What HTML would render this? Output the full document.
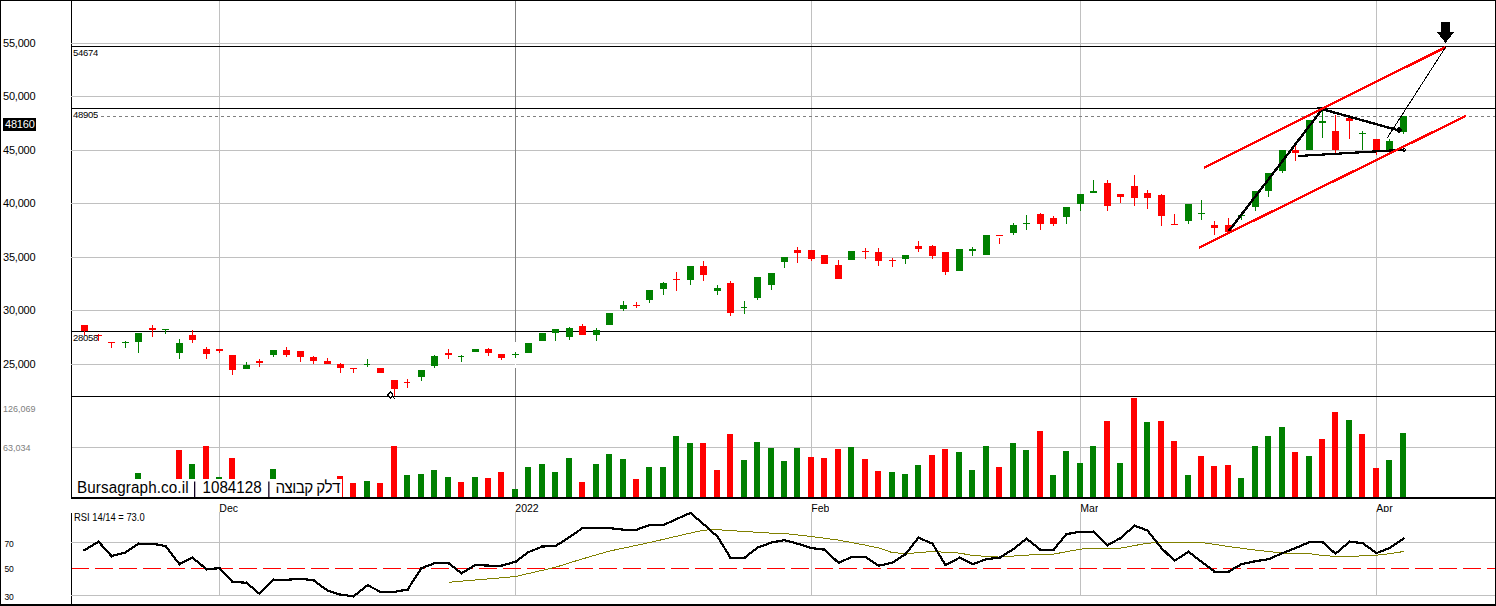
<!DOCTYPE html>
<html><head><meta charset="utf-8"><title>chart</title>
<style>
html,body{margin:0;padding:0;background:#fff;}
body{width:1496px;height:606px;position:relative;overflow:hidden;font-family:"Liberation Sans",sans-serif;}
.t{position:absolute;white-space:nowrap;line-height:12px;font-family:"Liberation Sans",sans-serif;}
</style></head><body>
<svg width="1496" height="606" viewBox="0 0 1496 606" style="position:absolute;left:0;top:0">
<rect x="0" y="0" width="1496" height="606" fill="#fff"/>
<g shape-rendering="crispEdges">
<rect x="71" y="43" width="1424" height="1" fill="#c0c0c0"/>
<rect x="71" y="96" width="1424" height="1" fill="#c0c0c0"/>
<rect x="71" y="150" width="1424" height="1" fill="#c0c0c0"/>
<rect x="71" y="203" width="1424" height="1" fill="#c0c0c0"/>
<rect x="71" y="257" width="1424" height="1" fill="#c0c0c0"/>
<rect x="71" y="310" width="1424" height="1" fill="#c0c0c0"/>
<rect x="71" y="364" width="1424" height="1" fill="#c0c0c0"/>
<rect x="72" y="447" width="1423" height="1" fill="#c0c0c0"/>
<rect x="72" y="542" width="1423" height="1" fill="#c0c0c0"/>
<rect x="72" y="595" width="1423" height="1" fill="#c0c0c0"/>
<rect x="219" y="1" width="1" height="496" fill="#c0c0c0"/>
<rect x="219" y="512" width="1" height="84" fill="#c0c0c0"/>
<rect x="515" y="1" width="1" height="496" fill="#808080"/>
<rect x="515" y="512" width="1" height="84" fill="#c0c0c0"/>
<rect x="811" y="1" width="1" height="496" fill="#c0c0c0"/>
<rect x="811" y="512" width="1" height="84" fill="#c0c0c0"/>
<rect x="1080" y="1" width="1" height="496" fill="#c0c0c0"/>
<rect x="1080" y="512" width="1" height="84" fill="#c0c0c0"/>
<rect x="1376" y="1" width="1" height="496" fill="#c0c0c0"/>
<rect x="1376" y="512" width="1" height="84" fill="#c0c0c0"/>
<rect x="515" y="342" width="1" height="26" fill="#fff"/>
<line x1="101" y1="116.5" x2="1495" y2="116.5" stroke="#808080" stroke-width="1" stroke-dasharray="3 3"/>
<rect x="72" y="46" width="1423" height="1" fill="#000"/>
<rect x="72" y="108" width="1423" height="1" fill="#000"/>
<rect x="72" y="331" width="1423" height="1" fill="#000"/>
<rect x="72" y="396" width="1423" height="1" fill="#000"/>
<rect x="72" y="497" width="1423" height="2" fill="#000"/>
<rect x="135" y="473" width="6" height="24" fill="#008000"/>
<rect x="176" y="450" width="6" height="47" fill="#ff0000"/>
<rect x="189" y="464" width="6" height="33" fill="#008000"/>
<rect x="203" y="446" width="6" height="51" fill="#ff0000"/>
<rect x="216" y="477" width="6" height="20" fill="#008000"/>
<rect x="229" y="458" width="6" height="39" fill="#ff0000"/>
<rect x="270" y="469" width="6" height="28" fill="#008000"/>
<rect x="337" y="476" width="6" height="21" fill="#ff0000"/>
<rect x="350" y="483" width="6" height="14" fill="#ff0000"/>
<rect x="364" y="481" width="6" height="16" fill="#008000"/>
<rect x="377" y="483" width="6" height="14" fill="#ff0000"/>
<rect x="391" y="446" width="6" height="51" fill="#ff0000"/>
<rect x="404" y="475" width="6" height="22" fill="#008000"/>
<rect x="418" y="474" width="6" height="23" fill="#008000"/>
<rect x="431" y="470" width="6" height="27" fill="#008000"/>
<rect x="445" y="477" width="6" height="20" fill="#008000"/>
<rect x="458" y="482" width="6" height="15" fill="#ff0000"/>
<rect x="472" y="477" width="6" height="20" fill="#008000"/>
<rect x="485" y="478" width="6" height="19" fill="#ff0000"/>
<rect x="498" y="472" width="6" height="25" fill="#ff0000"/>
<rect x="512" y="489" width="6" height="8" fill="#008000"/>
<rect x="525" y="467" width="6" height="30" fill="#008000"/>
<rect x="539" y="464" width="6" height="33" fill="#008000"/>
<rect x="552" y="472" width="6" height="25" fill="#008000"/>
<rect x="566" y="458" width="6" height="39" fill="#008000"/>
<rect x="579" y="482" width="6" height="15" fill="#ff0000"/>
<rect x="593" y="464" width="6" height="33" fill="#008000"/>
<rect x="606" y="454" width="6" height="43" fill="#008000"/>
<rect x="620" y="459" width="6" height="38" fill="#008000"/>
<rect x="633" y="479" width="6" height="18" fill="#ff0000"/>
<rect x="646" y="467" width="6" height="30" fill="#008000"/>
<rect x="660" y="467" width="6" height="30" fill="#008000"/>
<rect x="673" y="436" width="6" height="61" fill="#008000"/>
<rect x="687" y="443" width="6" height="54" fill="#008000"/>
<rect x="700" y="443" width="6" height="54" fill="#ff0000"/>
<rect x="714" y="470" width="6" height="27" fill="#ff0000"/>
<rect x="727" y="434" width="6" height="63" fill="#ff0000"/>
<rect x="741" y="460" width="6" height="37" fill="#008000"/>
<rect x="754" y="442" width="6" height="55" fill="#008000"/>
<rect x="768" y="448" width="6" height="49" fill="#008000"/>
<rect x="781" y="461" width="6" height="36" fill="#008000"/>
<rect x="794" y="448" width="6" height="49" fill="#008000"/>
<rect x="808" y="457" width="6" height="40" fill="#ff0000"/>
<rect x="821" y="458" width="6" height="39" fill="#ff0000"/>
<rect x="835" y="449" width="6" height="48" fill="#ff0000"/>
<rect x="848" y="447" width="6" height="50" fill="#008000"/>
<rect x="862" y="459" width="6" height="38" fill="#ff0000"/>
<rect x="875" y="471" width="6" height="26" fill="#ff0000"/>
<rect x="889" y="472" width="6" height="25" fill="#008000"/>
<rect x="902" y="474" width="6" height="23" fill="#008000"/>
<rect x="915" y="465" width="6" height="32" fill="#008000"/>
<rect x="929" y="455" width="6" height="42" fill="#ff0000"/>
<rect x="942" y="449" width="6" height="48" fill="#ff0000"/>
<rect x="956" y="452" width="6" height="45" fill="#008000"/>
<rect x="969" y="470" width="6" height="27" fill="#008000"/>
<rect x="983" y="446" width="6" height="51" fill="#008000"/>
<rect x="996" y="467" width="6" height="30" fill="#ff0000"/>
<rect x="1010" y="443" width="6" height="54" fill="#008000"/>
<rect x="1023" y="450" width="6" height="47" fill="#008000"/>
<rect x="1037" y="431" width="6" height="66" fill="#ff0000"/>
<rect x="1050" y="475" width="6" height="22" fill="#008000"/>
<rect x="1063" y="451" width="6" height="46" fill="#008000"/>
<rect x="1077" y="463" width="6" height="34" fill="#008000"/>
<rect x="1090" y="446" width="6" height="51" fill="#008000"/>
<rect x="1104" y="421" width="6" height="76" fill="#ff0000"/>
<rect x="1117" y="463" width="6" height="34" fill="#008000"/>
<rect x="1131" y="398" width="6" height="99" fill="#ff0000"/>
<rect x="1144" y="422" width="6" height="75" fill="#008000"/>
<rect x="1158" y="421" width="6" height="76" fill="#ff0000"/>
<rect x="1171" y="441" width="6" height="56" fill="#ff0000"/>
<rect x="1185" y="475" width="6" height="22" fill="#008000"/>
<rect x="1198" y="456" width="6" height="41" fill="#ff0000"/>
<rect x="1211" y="466" width="6" height="31" fill="#ff0000"/>
<rect x="1225" y="465" width="6" height="32" fill="#ff0000"/>
<rect x="1238" y="478" width="6" height="19" fill="#008000"/>
<rect x="1252" y="446" width="6" height="51" fill="#008000"/>
<rect x="1265" y="436" width="6" height="61" fill="#008000"/>
<rect x="1279" y="427" width="6" height="70" fill="#008000"/>
<rect x="1292" y="452" width="6" height="45" fill="#ff0000"/>
<rect x="1306" y="456" width="6" height="41" fill="#008000"/>
<rect x="1319" y="439" width="6" height="58" fill="#ff0000"/>
<rect x="1332" y="412" width="6" height="85" fill="#ff0000"/>
<rect x="1346" y="420" width="6" height="77" fill="#008000"/>
<rect x="1359" y="434" width="6" height="63" fill="#ff0000"/>
<rect x="1373" y="468" width="6" height="29" fill="#ff0000"/>
<rect x="1386" y="460" width="6" height="37" fill="#008000"/>
<rect x="1400" y="433" width="6" height="64" fill="#008000"/>
<rect x="84" y="325" width="1" height="10" fill="#ff0000"/>
<rect x="81" y="325" width="7" height="6" fill="#ff0000"/>
<rect x="98" y="334" width="1" height="7" fill="#ff0000"/>
<rect x="95" y="335" width="7" height="1" fill="#ff0000"/>
<rect x="111" y="342" width="1" height="6" fill="#ff0000"/>
<rect x="108" y="342" width="7" height="1" fill="#ff0000"/>
<rect x="125" y="341" width="1" height="7" fill="#008000"/>
<rect x="122" y="342" width="7" height="1" fill="#008000"/>
<rect x="138" y="333" width="1" height="20" fill="#008000"/>
<rect x="135" y="333" width="7" height="9" fill="#008000"/>
<rect x="152" y="325" width="1" height="12" fill="#ff0000"/>
<rect x="149" y="328" width="7" height="2" fill="#ff0000"/>
<rect x="165" y="329" width="1" height="5" fill="#008000"/>
<rect x="162" y="329" width="7" height="1" fill="#008000"/>
<rect x="179" y="339" width="1" height="20" fill="#008000"/>
<rect x="176" y="343" width="7" height="10" fill="#008000"/>
<rect x="192" y="330" width="1" height="13" fill="#ff0000"/>
<rect x="189" y="335" width="7" height="5" fill="#ff0000"/>
<rect x="206" y="347" width="1" height="12" fill="#ff0000"/>
<rect x="203" y="349" width="7" height="5" fill="#ff0000"/>
<rect x="219" y="349" width="1" height="4" fill="#ff0000"/>
<rect x="216" y="349" width="7" height="2" fill="#ff0000"/>
<rect x="232" y="355" width="1" height="20" fill="#ff0000"/>
<rect x="229" y="355" width="7" height="15" fill="#ff0000"/>
<rect x="246" y="362" width="1" height="7" fill="#008000"/>
<rect x="243" y="365" width="7" height="4" fill="#008000"/>
<rect x="259" y="359" width="1" height="8" fill="#ff0000"/>
<rect x="256" y="361" width="7" height="2" fill="#ff0000"/>
<rect x="273" y="350" width="1" height="7" fill="#008000"/>
<rect x="270" y="350" width="7" height="5" fill="#008000"/>
<rect x="286" y="347" width="1" height="10" fill="#ff0000"/>
<rect x="283" y="350" width="7" height="5" fill="#ff0000"/>
<rect x="300" y="351" width="1" height="11" fill="#ff0000"/>
<rect x="297" y="351" width="7" height="6" fill="#ff0000"/>
<rect x="313" y="356" width="1" height="8" fill="#ff0000"/>
<rect x="310" y="357" width="7" height="4" fill="#ff0000"/>
<rect x="327" y="358" width="1" height="6" fill="#ff0000"/>
<rect x="324" y="361" width="7" height="3" fill="#ff0000"/>
<rect x="340" y="363" width="1" height="10" fill="#ff0000"/>
<rect x="337" y="364" width="7" height="4" fill="#ff0000"/>
<rect x="353" y="368" width="1" height="5" fill="#ff0000"/>
<rect x="350" y="368" width="7" height="1" fill="#ff0000"/>
<rect x="367" y="359" width="1" height="8" fill="#008000"/>
<rect x="364" y="364" width="6" height="1" fill="#008000"/>
<rect x="380" y="368" width="1" height="5" fill="#ff0000"/>
<rect x="377" y="368" width="7" height="5" fill="#ff0000"/>
<rect x="394" y="380" width="1" height="16" fill="#ff0000"/>
<rect x="391" y="380" width="7" height="9" fill="#ff0000"/>
<rect x="407" y="379" width="1" height="9" fill="#ff0000"/>
<rect x="404" y="382" width="6" height="1" fill="#ff0000"/>
<rect x="421" y="370" width="1" height="11" fill="#008000"/>
<rect x="418" y="370" width="7" height="7" fill="#008000"/>
<rect x="434" y="355" width="1" height="13" fill="#008000"/>
<rect x="431" y="356" width="7" height="10" fill="#008000"/>
<rect x="448" y="349" width="1" height="10" fill="#ff0000"/>
<rect x="445" y="353" width="7" height="2" fill="#ff0000"/>
<rect x="461" y="355" width="1" height="7" fill="#008000"/>
<rect x="458" y="356" width="6" height="1" fill="#008000"/>
<rect x="475" y="349" width="1" height="3" fill="#008000"/>
<rect x="472" y="349" width="7" height="3" fill="#008000"/>
<rect x="488" y="348" width="1" height="8" fill="#ff0000"/>
<rect x="485" y="349" width="7" height="4" fill="#ff0000"/>
<rect x="501" y="354" width="1" height="6" fill="#ff0000"/>
<rect x="498" y="354" width="7" height="4" fill="#ff0000"/>
<rect x="515" y="352" width="1" height="6" fill="#008000"/>
<rect x="512" y="354" width="7" height="1" fill="#008000"/>
<rect x="528" y="343" width="1" height="10" fill="#008000"/>
<rect x="525" y="343" width="7" height="10" fill="#008000"/>
<rect x="542" y="333" width="1" height="8" fill="#008000"/>
<rect x="539" y="333" width="7" height="8" fill="#008000"/>
<rect x="555" y="329" width="1" height="12" fill="#008000"/>
<rect x="552" y="329" width="7" height="4" fill="#008000"/>
<rect x="569" y="327" width="1" height="13" fill="#008000"/>
<rect x="566" y="328" width="7" height="9" fill="#008000"/>
<rect x="582" y="324" width="1" height="11" fill="#ff0000"/>
<rect x="579" y="326" width="7" height="9" fill="#ff0000"/>
<rect x="596" y="328" width="1" height="13" fill="#008000"/>
<rect x="593" y="330" width="7" height="5" fill="#008000"/>
<rect x="609" y="313" width="1" height="12" fill="#008000"/>
<rect x="606" y="313" width="7" height="12" fill="#008000"/>
<rect x="623" y="301" width="1" height="10" fill="#008000"/>
<rect x="620" y="305" width="7" height="4" fill="#008000"/>
<rect x="636" y="302" width="1" height="6" fill="#ff0000"/>
<rect x="633" y="305" width="7" height="1" fill="#ff0000"/>
<rect x="649" y="290" width="1" height="13" fill="#008000"/>
<rect x="646" y="290" width="7" height="10" fill="#008000"/>
<rect x="663" y="282" width="1" height="13" fill="#008000"/>
<rect x="660" y="283" width="7" height="6" fill="#008000"/>
<rect x="676" y="272" width="1" height="19" fill="#ff0000"/>
<rect x="673" y="279" width="7" height="1" fill="#ff0000"/>
<rect x="690" y="266" width="1" height="19" fill="#008000"/>
<rect x="687" y="266" width="7" height="14" fill="#008000"/>
<rect x="703" y="261" width="1" height="20" fill="#ff0000"/>
<rect x="700" y="266" width="7" height="9" fill="#ff0000"/>
<rect x="717" y="285" width="1" height="10" fill="#008000"/>
<rect x="714" y="288" width="7" height="3" fill="#008000"/>
<rect x="730" y="281" width="1" height="35" fill="#ff0000"/>
<rect x="727" y="283" width="7" height="30" fill="#ff0000"/>
<rect x="744" y="301" width="1" height="13" fill="#008000"/>
<rect x="741" y="307" width="6" height="1" fill="#008000"/>
<rect x="757" y="277" width="1" height="23" fill="#008000"/>
<rect x="754" y="277" width="7" height="21" fill="#008000"/>
<rect x="771" y="273" width="1" height="17" fill="#008000"/>
<rect x="768" y="273" width="7" height="12" fill="#008000"/>
<rect x="784" y="257" width="1" height="11" fill="#008000"/>
<rect x="781" y="257" width="7" height="5" fill="#008000"/>
<rect x="797" y="247" width="1" height="16" fill="#ff0000"/>
<rect x="794" y="250" width="7" height="3" fill="#ff0000"/>
<rect x="811" y="250" width="1" height="11" fill="#ff0000"/>
<rect x="808" y="250" width="7" height="9" fill="#ff0000"/>
<rect x="824" y="255" width="1" height="9" fill="#ff0000"/>
<rect x="821" y="255" width="7" height="9" fill="#ff0000"/>
<rect x="838" y="260" width="1" height="19" fill="#ff0000"/>
<rect x="835" y="265" width="7" height="14" fill="#ff0000"/>
<rect x="851" y="251" width="1" height="9" fill="#008000"/>
<rect x="848" y="251" width="7" height="9" fill="#008000"/>
<rect x="865" y="248" width="1" height="11" fill="#ff0000"/>
<rect x="862" y="251" width="7" height="1" fill="#ff0000"/>
<rect x="878" y="248" width="1" height="18" fill="#ff0000"/>
<rect x="875" y="252" width="7" height="9" fill="#ff0000"/>
<rect x="892" y="258" width="1" height="9" fill="#ff0000"/>
<rect x="889" y="260" width="7" height="1" fill="#ff0000"/>
<rect x="905" y="255" width="1" height="9" fill="#008000"/>
<rect x="902" y="255" width="7" height="4" fill="#008000"/>
<rect x="918" y="241" width="1" height="11" fill="#ff0000"/>
<rect x="915" y="246" width="7" height="3" fill="#ff0000"/>
<rect x="932" y="245" width="1" height="14" fill="#ff0000"/>
<rect x="929" y="246" width="7" height="10" fill="#ff0000"/>
<rect x="945" y="252" width="1" height="23" fill="#ff0000"/>
<rect x="942" y="252" width="7" height="20" fill="#ff0000"/>
<rect x="959" y="249" width="1" height="22" fill="#008000"/>
<rect x="956" y="249" width="7" height="22" fill="#008000"/>
<rect x="972" y="247" width="1" height="9" fill="#008000"/>
<rect x="969" y="249" width="7" height="2" fill="#008000"/>
<rect x="986" y="235" width="1" height="20" fill="#008000"/>
<rect x="983" y="235" width="7" height="20" fill="#008000"/>
<rect x="999" y="238" width="1" height="6" fill="#ff0000"/>
<rect x="996" y="235" width="7" height="1" fill="#ff0000"/>
<rect x="1013" y="223" width="1" height="12" fill="#008000"/>
<rect x="1010" y="225" width="7" height="8" fill="#008000"/>
<rect x="1026" y="215" width="1" height="15" fill="#008000"/>
<rect x="1023" y="223" width="7" height="1" fill="#008000"/>
<rect x="1040" y="213" width="1" height="17" fill="#ff0000"/>
<rect x="1037" y="214" width="7" height="10" fill="#ff0000"/>
<rect x="1053" y="216" width="1" height="10" fill="#ff0000"/>
<rect x="1050" y="218" width="7" height="6" fill="#ff0000"/>
<rect x="1066" y="207" width="1" height="17" fill="#008000"/>
<rect x="1063" y="207" width="7" height="10" fill="#008000"/>
<rect x="1080" y="194" width="1" height="17" fill="#008000"/>
<rect x="1077" y="194" width="7" height="10" fill="#008000"/>
<rect x="1093" y="180" width="1" height="13" fill="#008000"/>
<rect x="1090" y="191" width="7" height="2" fill="#008000"/>
<rect x="1107" y="180" width="1" height="31" fill="#ff0000"/>
<rect x="1104" y="183" width="7" height="23" fill="#ff0000"/>
<rect x="1120" y="194" width="1" height="9" fill="#ff0000"/>
<rect x="1117" y="194" width="7" height="3" fill="#ff0000"/>
<rect x="1134" y="175" width="1" height="31" fill="#ff0000"/>
<rect x="1131" y="186" width="7" height="12" fill="#ff0000"/>
<rect x="1147" y="190" width="1" height="19" fill="#ff0000"/>
<rect x="1144" y="193" width="7" height="5" fill="#ff0000"/>
<rect x="1161" y="194" width="1" height="32" fill="#ff0000"/>
<rect x="1158" y="195" width="7" height="21" fill="#ff0000"/>
<rect x="1174" y="214" width="1" height="11" fill="#ff0000"/>
<rect x="1171" y="224" width="7" height="1" fill="#ff0000"/>
<rect x="1188" y="204" width="1" height="20" fill="#008000"/>
<rect x="1185" y="204" width="7" height="17" fill="#008000"/>
<rect x="1201" y="200" width="1" height="20" fill="#008000"/>
<rect x="1198" y="213" width="7" height="1" fill="#008000"/>
<rect x="1214" y="221" width="1" height="14" fill="#ff0000"/>
<rect x="1211" y="225" width="7" height="3" fill="#ff0000"/>
<rect x="1228" y="218" width="1" height="14" fill="#ff0000"/>
<rect x="1225" y="225" width="7" height="7" fill="#ff0000"/>
<rect x="1241" y="214" width="1" height="6" fill="#008000"/>
<rect x="1238" y="214.5" width="7" height="1.0" fill="#008000"/>
<rect x="1255" y="191" width="1" height="20" fill="#008000"/>
<rect x="1252" y="191" width="7" height="16" fill="#008000"/>
<rect x="1268" y="173" width="1" height="24" fill="#008000"/>
<rect x="1265" y="173" width="7" height="18" fill="#008000"/>
<rect x="1282" y="150" width="1" height="23" fill="#008000"/>
<rect x="1279" y="150" width="7" height="21" fill="#008000"/>
<rect x="1295" y="142" width="1" height="19" fill="#ff0000"/>
<rect x="1292" y="150" width="7" height="3" fill="#ff0000"/>
<rect x="1309" y="120" width="1" height="30" fill="#008000"/>
<rect x="1306" y="120" width="7" height="30" fill="#008000"/>
<rect x="1322" y="109" width="1" height="29" fill="#008000"/>
<rect x="1319" y="121" width="7" height="2" fill="#008000"/>
<rect x="1335" y="115" width="1" height="38" fill="#ff0000"/>
<rect x="1332" y="131" width="7" height="19" fill="#ff0000"/>
<rect x="1349" y="116" width="1" height="23" fill="#ff0000"/>
<rect x="1346" y="118" width="7" height="3" fill="#ff0000"/>
<rect x="1362" y="131" width="1" height="19" fill="#008000"/>
<rect x="1359" y="133" width="7" height="1" fill="#008000"/>
<rect x="1376" y="139" width="1" height="16" fill="#ff0000"/>
<rect x="1373" y="139" width="7" height="11" fill="#ff0000"/>
<rect x="1389" y="139" width="1" height="11" fill="#008000"/>
<rect x="1386" y="141" width="7" height="9" fill="#008000"/>
<rect x="1403" y="116" width="1" height="18" fill="#008000"/>
<rect x="1400" y="116" width="7" height="16" fill="#008000"/>
<rect x="72" y="479" width="270" height="18" fill="#fff"/>
<rect x="194" y="481.5" width="1.3" height="15.5" fill="#102" shape-rendering="auto"/>
<rect x="268.2" y="481.5" width="1.3" height="15.5" fill="#102" shape-rendering="auto"/>
<line x1="71" y1="568.5" x2="1495" y2="568.5" stroke="#ff0000" stroke-width="1" stroke-dasharray="18 6"/>
<rect x="0" y="0" width="1496" height="1" fill="#000"/>
<rect x="0" y="0" width="1" height="606" fill="#000"/>
<rect x="1495" y="0" width="1" height="606" fill="#000"/>
<rect x="0" y="604" width="1496" height="2" fill="#000"/>
<rect x="71" y="0" width="1" height="499" fill="#000"/>
<rect x="71" y="513" width="1" height="92" fill="#000"/>
<rect x="71" y="43" width="1" height="1" fill="#c0c0c0"/>
<rect x="71" y="96" width="1" height="1" fill="#c0c0c0"/>
<rect x="71" y="150" width="1" height="1" fill="#c0c0c0"/>
<rect x="71" y="203" width="1" height="1" fill="#c0c0c0"/>
<rect x="71" y="257" width="1" height="1" fill="#c0c0c0"/>
<rect x="71" y="310" width="1" height="1" fill="#c0c0c0"/>
<rect x="71" y="364" width="1" height="1" fill="#c0c0c0"/>
<rect x="71" y="542" width="1" height="1" fill="#c0c0c0"/>
<rect x="71" y="595" width="1" height="1" fill="#c0c0c0"/>
<rect x="3" y="118" width="33" height="13" fill="#000"/>
<polygon points="1441,22 1450,22 1450,32 1454,32 1445.5,43 1437,32 1441,32" fill="#000"/>
</g>
<g shape-rendering="crispEdges" fill="none" stroke-linecap="butt">
<line x1="1228.6" y1="231.3" x2="1322.2" y2="109.3" stroke="#000" stroke-width="2.4"/>
<rect x="1317" y="107" width="6" height="1" fill="#000" stroke="none"/>
<line x1="1321" y1="108.8" x2="1399" y2="130.5" stroke="#000" stroke-width="2.4"/>
<line x1="1298.3" y1="156" x2="1403" y2="149.8" stroke="#000" stroke-width="2.2"/>
<line x1="1204" y1="167.7" x2="1446" y2="47" stroke="#ff0000" stroke-width="2.35"/>
<line x1="1199" y1="247.6" x2="1466" y2="115.8" stroke="#ff0000" stroke-width="2.35"/>
<line x1="1387" y1="138.3" x2="1446" y2="46.5" stroke="#000" stroke-width="1"/>
<polygon points="1399,126.5 1402.5,130 1399,133.5 1395.5,130" fill="#000" stroke="none"/>
<polygon points="1404,147 1406.6,149.8 1404,152.6 1401.4,149.8" fill="#000" stroke="none"/>
<rect x="1404" y="149" width="1" height="1" fill="#fff" stroke="none"/>
<polygon points="390.5,392.3 393,395 390.5,397.7 388,395" fill="#fff" stroke="#000" stroke-width="1.4"/>
<line x1="392" y1="396" x2="395" y2="399" stroke="#000" stroke-width="1"/>
<polyline points="449.4,582.2 515.2,576.6 555.7,567.2 580.0,559.6 609.4,551.1 649.8,542.5 690.2,533.1 703.7,530.1 717.1,529.7 744.0,531.5 771.0,533.1 784.4,533.5 811.3,536.5 838.3,540.1 865.2,545.1 880.0,548.3 892.0,552.5 905.6,553.7 932.5,551.5 959.4,553.1 972.9,555.5 999.8,557.1 1026.7,555.1 1053.6,554.1 1080.5,549.1 1094.0,548.1 1120.9,548.1 1147.8,543.1 1170.0,542.5 1201.7,542.5 1228.6,546.5 1255.5,550.1 1282.5,553.1 1309.4,553.7 1322.8,555.5 1336.3,556.5 1349.7,556.5 1376.7,555.1 1390.1,553.7 1403.6,551.5" stroke="#808000" stroke-width="1"/>
<line x1="84.5" y1="550.1" x2="98.5" y2="541.7" stroke="#000" stroke-width="2.2" stroke-linecap="square"/>
<line x1="98.5" y1="541.7" x2="111.5" y2="556.1" stroke="#000" stroke-width="2.2" stroke-linecap="square"/>
<line x1="111.5" y1="556.1" x2="125.5" y2="552.5" stroke="#000" stroke-width="2.2" stroke-linecap="square"/>
<line x1="125.5" y1="552.5" x2="138.5" y2="543.7" stroke="#000" stroke-width="2.2" stroke-linecap="square"/>
<line x1="138.5" y1="543.7" x2="152.5" y2="543.7" stroke="#000" stroke-width="2.2" stroke-linecap="square"/>
<line x1="152.5" y1="543.7" x2="165.5" y2="546.1" stroke="#000" stroke-width="2.2" stroke-linecap="square"/>
<line x1="165.5" y1="546.1" x2="179.5" y2="564.2" stroke="#000" stroke-width="2.2" stroke-linecap="square"/>
<line x1="179.5" y1="564.2" x2="192.5" y2="557.7" stroke="#000" stroke-width="2.2" stroke-linecap="square"/>
<line x1="192.5" y1="557.7" x2="206.5" y2="569.2" stroke="#000" stroke-width="2.2" stroke-linecap="square"/>
<line x1="206.5" y1="569.2" x2="219.5" y2="568.2" stroke="#000" stroke-width="2.2" stroke-linecap="square"/>
<line x1="219.5" y1="568.2" x2="232.5" y2="581.8" stroke="#000" stroke-width="2.2" stroke-linecap="square"/>
<line x1="232.5" y1="581.8" x2="246.5" y2="582.8" stroke="#000" stroke-width="2.2" stroke-linecap="square"/>
<line x1="246.5" y1="582.8" x2="259.5" y2="593.8" stroke="#000" stroke-width="2.2" stroke-linecap="square"/>
<line x1="259.5" y1="593.8" x2="273.5" y2="579.8" stroke="#000" stroke-width="2.2" stroke-linecap="square"/>
<line x1="273.5" y1="579.8" x2="286.5" y2="579.8" stroke="#000" stroke-width="2.2" stroke-linecap="square"/>
<line x1="286.5" y1="579.8" x2="300.5" y2="578.8" stroke="#000" stroke-width="2.2" stroke-linecap="square"/>
<line x1="300.5" y1="578.8" x2="313.5" y2="580.2" stroke="#000" stroke-width="2.2" stroke-linecap="square"/>
<line x1="313.5" y1="580.2" x2="327.5" y2="590.6" stroke="#000" stroke-width="2.2" stroke-linecap="square"/>
<line x1="327.5" y1="590.6" x2="340.5" y2="594.6" stroke="#000" stroke-width="2.2" stroke-linecap="square"/>
<line x1="340.5" y1="594.6" x2="353.5" y2="596.3" stroke="#000" stroke-width="2.2" stroke-linecap="square"/>
<line x1="353.5" y1="596.3" x2="367.5" y2="585.2" stroke="#000" stroke-width="2.2" stroke-linecap="square"/>
<line x1="367.5" y1="585.2" x2="380.5" y2="591.8" stroke="#000" stroke-width="2.2" stroke-linecap="square"/>
<line x1="380.5" y1="591.8" x2="394.5" y2="591.8" stroke="#000" stroke-width="2.2" stroke-linecap="square"/>
<line x1="394.5" y1="591.8" x2="407.5" y2="589.6" stroke="#000" stroke-width="2.2" stroke-linecap="square"/>
<line x1="407.5" y1="589.6" x2="421.5" y2="568.2" stroke="#000" stroke-width="2.2" stroke-linecap="square"/>
<line x1="421.5" y1="568.2" x2="434.5" y2="563.2" stroke="#000" stroke-width="2.2" stroke-linecap="square"/>
<line x1="434.5" y1="563.2" x2="448.5" y2="563.2" stroke="#000" stroke-width="2.2" stroke-linecap="square"/>
<line x1="448.5" y1="563.2" x2="461.5" y2="573.2" stroke="#000" stroke-width="2.2" stroke-linecap="square"/>
<line x1="461.5" y1="573.2" x2="475.5" y2="565.0" stroke="#000" stroke-width="2.2" stroke-linecap="square"/>
<line x1="475.5" y1="565.0" x2="488.5" y2="565.6" stroke="#000" stroke-width="2.2" stroke-linecap="square"/>
<line x1="488.5" y1="565.6" x2="501.5" y2="565.6" stroke="#000" stroke-width="2.2" stroke-linecap="square"/>
<line x1="501.5" y1="565.6" x2="515.5" y2="561.8" stroke="#000" stroke-width="2.2" stroke-linecap="square"/>
<line x1="515.5" y1="561.8" x2="528.5" y2="552.1" stroke="#000" stroke-width="2.2" stroke-linecap="square"/>
<line x1="528.5" y1="552.1" x2="542.5" y2="546.5" stroke="#000" stroke-width="2.2" stroke-linecap="square"/>
<line x1="542.5" y1="546.5" x2="555.5" y2="546.1" stroke="#000" stroke-width="2.2" stroke-linecap="square"/>
<line x1="555.5" y1="546.1" x2="569.5" y2="537.1" stroke="#000" stroke-width="2.2" stroke-linecap="square"/>
<line x1="569.5" y1="537.1" x2="582.5" y2="528.1" stroke="#000" stroke-width="2.2" stroke-linecap="square"/>
<line x1="582.5" y1="528.1" x2="596.5" y2="528.1" stroke="#000" stroke-width="2.2" stroke-linecap="square"/>
<line x1="596.5" y1="528.1" x2="609.5" y2="528.1" stroke="#000" stroke-width="2.2" stroke-linecap="square"/>
<line x1="609.5" y1="528.1" x2="623.5" y2="529.7" stroke="#000" stroke-width="2.2" stroke-linecap="square"/>
<line x1="623.5" y1="529.7" x2="636.5" y2="529.7" stroke="#000" stroke-width="2.2" stroke-linecap="square"/>
<line x1="636.5" y1="529.7" x2="649.5" y2="525.1" stroke="#000" stroke-width="2.2" stroke-linecap="square"/>
<line x1="649.5" y1="525.1" x2="663.5" y2="525.1" stroke="#000" stroke-width="2.2" stroke-linecap="square"/>
<line x1="663.5" y1="525.1" x2="676.5" y2="519.0" stroke="#000" stroke-width="2.2" stroke-linecap="square"/>
<line x1="676.5" y1="519.0" x2="690.5" y2="513.0" stroke="#000" stroke-width="2.2" stroke-linecap="square"/>
<line x1="690.5" y1="513.0" x2="703.5" y2="524.1" stroke="#000" stroke-width="2.2" stroke-linecap="square"/>
<line x1="703.5" y1="524.1" x2="717.5" y2="536.7" stroke="#000" stroke-width="2.2" stroke-linecap="square"/>
<line x1="717.5" y1="536.7" x2="730.5" y2="557.7" stroke="#000" stroke-width="2.2" stroke-linecap="square"/>
<line x1="730.5" y1="557.7" x2="744.5" y2="557.7" stroke="#000" stroke-width="2.2" stroke-linecap="square"/>
<line x1="744.5" y1="557.7" x2="757.5" y2="547.7" stroke="#000" stroke-width="2.2" stroke-linecap="square"/>
<line x1="757.5" y1="547.7" x2="771.5" y2="542.5" stroke="#000" stroke-width="2.2" stroke-linecap="square"/>
<line x1="771.5" y1="542.5" x2="784.5" y2="540.1" stroke="#000" stroke-width="2.2" stroke-linecap="square"/>
<line x1="784.5" y1="540.1" x2="797.5" y2="543.7" stroke="#000" stroke-width="2.2" stroke-linecap="square"/>
<line x1="797.5" y1="543.7" x2="811.5" y2="548.1" stroke="#000" stroke-width="2.2" stroke-linecap="square"/>
<line x1="811.5" y1="548.1" x2="824.5" y2="549.7" stroke="#000" stroke-width="2.2" stroke-linecap="square"/>
<line x1="824.5" y1="549.7" x2="838.5" y2="562.8" stroke="#000" stroke-width="2.2" stroke-linecap="square"/>
<line x1="838.5" y1="562.8" x2="851.5" y2="557.1" stroke="#000" stroke-width="2.2" stroke-linecap="square"/>
<line x1="851.5" y1="557.1" x2="865.5" y2="557.1" stroke="#000" stroke-width="2.2" stroke-linecap="square"/>
<line x1="865.5" y1="557.1" x2="878.5" y2="565.8" stroke="#000" stroke-width="2.2" stroke-linecap="square"/>
<line x1="878.5" y1="565.8" x2="892.5" y2="562.6" stroke="#000" stroke-width="2.2" stroke-linecap="square"/>
<line x1="892.5" y1="562.6" x2="905.5" y2="554.1" stroke="#000" stroke-width="2.2" stroke-linecap="square"/>
<line x1="905.5" y1="554.1" x2="918.5" y2="537.7" stroke="#000" stroke-width="2.2" stroke-linecap="square"/>
<line x1="918.5" y1="537.7" x2="932.5" y2="543.7" stroke="#000" stroke-width="2.2" stroke-linecap="square"/>
<line x1="932.5" y1="543.7" x2="945.5" y2="565.2" stroke="#000" stroke-width="2.2" stroke-linecap="square"/>
<line x1="945.5" y1="565.2" x2="959.5" y2="557.7" stroke="#000" stroke-width="2.2" stroke-linecap="square"/>
<line x1="959.5" y1="557.7" x2="972.5" y2="564.2" stroke="#000" stroke-width="2.2" stroke-linecap="square"/>
<line x1="972.5" y1="564.2" x2="986.5" y2="559.2" stroke="#000" stroke-width="2.2" stroke-linecap="square"/>
<line x1="986.5" y1="559.2" x2="999.5" y2="557.7" stroke="#000" stroke-width="2.2" stroke-linecap="square"/>
<line x1="999.5" y1="557.7" x2="1013.5" y2="549.1" stroke="#000" stroke-width="2.2" stroke-linecap="square"/>
<line x1="1013.5" y1="549.1" x2="1026.5" y2="538.5" stroke="#000" stroke-width="2.2" stroke-linecap="square"/>
<line x1="1026.5" y1="538.5" x2="1040.5" y2="549.7" stroke="#000" stroke-width="2.2" stroke-linecap="square"/>
<line x1="1040.5" y1="549.7" x2="1053.5" y2="549.7" stroke="#000" stroke-width="2.2" stroke-linecap="square"/>
<line x1="1053.5" y1="549.7" x2="1066.5" y2="534.1" stroke="#000" stroke-width="2.2" stroke-linecap="square"/>
<line x1="1066.5" y1="534.1" x2="1080.5" y2="531.7" stroke="#000" stroke-width="2.2" stroke-linecap="square"/>
<line x1="1080.5" y1="531.7" x2="1093.5" y2="531.7" stroke="#000" stroke-width="2.2" stroke-linecap="square"/>
<line x1="1093.5" y1="531.7" x2="1107.5" y2="545.1" stroke="#000" stroke-width="2.2" stroke-linecap="square"/>
<line x1="1107.5" y1="545.1" x2="1120.5" y2="538.1" stroke="#000" stroke-width="2.2" stroke-linecap="square"/>
<line x1="1120.5" y1="538.1" x2="1134.5" y2="525.7" stroke="#000" stroke-width="2.2" stroke-linecap="square"/>
<line x1="1134.5" y1="525.7" x2="1147.5" y2="530.5" stroke="#000" stroke-width="2.2" stroke-linecap="square"/>
<line x1="1147.5" y1="530.5" x2="1161.5" y2="548.1" stroke="#000" stroke-width="2.2" stroke-linecap="square"/>
<line x1="1161.5" y1="548.1" x2="1174.5" y2="560.8" stroke="#000" stroke-width="2.2" stroke-linecap="square"/>
<line x1="1174.5" y1="560.8" x2="1188.5" y2="551.7" stroke="#000" stroke-width="2.2" stroke-linecap="square"/>
<line x1="1188.5" y1="551.7" x2="1201.5" y2="561.8" stroke="#000" stroke-width="2.2" stroke-linecap="square"/>
<line x1="1201.5" y1="561.8" x2="1214.5" y2="571.6" stroke="#000" stroke-width="2.2" stroke-linecap="square"/>
<line x1="1214.5" y1="571.6" x2="1228.5" y2="571.6" stroke="#000" stroke-width="2.2" stroke-linecap="square"/>
<line x1="1228.5" y1="571.6" x2="1241.5" y2="564.2" stroke="#000" stroke-width="2.2" stroke-linecap="square"/>
<line x1="1241.5" y1="564.2" x2="1255.5" y2="561.2" stroke="#000" stroke-width="2.2" stroke-linecap="square"/>
<line x1="1255.5" y1="561.2" x2="1268.5" y2="559.2" stroke="#000" stroke-width="2.2" stroke-linecap="square"/>
<line x1="1268.5" y1="559.2" x2="1282.5" y2="553.1" stroke="#000" stroke-width="2.2" stroke-linecap="square"/>
<line x1="1282.5" y1="553.1" x2="1295.5" y2="548.1" stroke="#000" stroke-width="2.2" stroke-linecap="square"/>
<line x1="1295.5" y1="548.1" x2="1309.5" y2="542.1" stroke="#000" stroke-width="2.2" stroke-linecap="square"/>
<line x1="1309.5" y1="542.1" x2="1322.5" y2="542.1" stroke="#000" stroke-width="2.2" stroke-linecap="square"/>
<line x1="1322.5" y1="542.1" x2="1335.5" y2="553.7" stroke="#000" stroke-width="2.2" stroke-linecap="square"/>
<line x1="1335.5" y1="553.7" x2="1349.5" y2="541.7" stroke="#000" stroke-width="2.2" stroke-linecap="square"/>
<line x1="1349.5" y1="541.7" x2="1362.5" y2="543.1" stroke="#000" stroke-width="2.2" stroke-linecap="square"/>
<line x1="1362.5" y1="543.1" x2="1376.5" y2="553.1" stroke="#000" stroke-width="2.2" stroke-linecap="square"/>
<line x1="1376.5" y1="553.1" x2="1389.5" y2="548.1" stroke="#000" stroke-width="2.2" stroke-linecap="square"/>
<line x1="1389.5" y1="548.1" x2="1403.5" y2="538.7" stroke="#000" stroke-width="2.2" stroke-linecap="square"/>
</g>
</svg>
<div class="t" style="left:3px;top:37px;font-size:11px;color:#000;letter-spacing:-0.2px;">55,000</div>
<div class="t" style="left:3px;top:90px;font-size:11px;color:#000;letter-spacing:-0.2px;">50,000</div>
<div class="t" style="left:3px;top:144px;font-size:11px;color:#000;letter-spacing:-0.2px;">45,000</div>
<div class="t" style="left:3px;top:197px;font-size:11px;color:#000;letter-spacing:-0.2px;">40,000</div>
<div class="t" style="left:3px;top:251px;font-size:11px;color:#000;letter-spacing:-0.2px;">35,000</div>
<div class="t" style="left:3px;top:304px;font-size:11px;color:#000;letter-spacing:-0.2px;">30,000</div>
<div class="t" style="left:3px;top:358px;font-size:11px;color:#000;letter-spacing:-0.2px;">25,000</div>
<div class="t" style="left:5px;top:118px;font-size:11px;color:#fff;letter-spacing:-0.2px;">48160</div>
<div class="t" style="left:73px;top:47px;font-size:9.5px;color:#000;letter-spacing:-0.3px;transform:scaleY(1.04);transform-origin:0 9px;">54674</div>
<div class="t" style="left:73px;top:109px;font-size:9.5px;color:#000;letter-spacing:-0.3px;transform:scaleY(1.04);transform-origin:0 9px;">48905</div>
<div class="t" style="left:73px;top:332px;font-size:9.5px;color:#000;letter-spacing:-0.3px;transform:scaleY(1.04);transform-origin:0 9px;">28058</div>
<div class="t" style="left:3px;top:403px;font-size:9px;color:#808080;">126,069</div>
<div class="t" style="left:3px;top:442px;font-size:9px;color:#808080;">63,034</div>
<div class="t" style="left:4.4px;top:538px;font-size:8.5px;color:#000;transform:scaleY(1.15);transform-origin:0 9px;">70</div>
<div class="t" style="left:4.4px;top:563px;font-size:8.5px;color:#000;transform:scaleY(1.15);transform-origin:0 9px;">50</div>
<div class="t" style="left:4.4px;top:591px;font-size:8.5px;color:#000;transform:scaleY(1.15);transform-origin:0 9px;">30</div>
<div class="t" style="left:219.3px;top:502px;font-size:10.5px;color:#000;height:10px;overflow:hidden;">Dec</div>
<div class="t" style="left:515.3px;top:502px;font-size:10.5px;color:#000;height:10px;overflow:hidden;">2022</div>
<div class="t" style="left:811.3px;top:502px;font-size:10.5px;color:#000;height:10px;overflow:hidden;">Feb</div>
<div class="t" style="left:1080.3px;top:502px;font-size:10.5px;color:#000;height:10px;overflow:hidden;">Mar</div>
<div class="t" style="left:1376.3px;top:502px;font-size:10.5px;color:#000;height:10px;overflow:hidden;">Apr</div>
<div class="t" style="left:74px;top:512px;font-size:9.4px;color:#000;transform:scaleY(1.13);transform-origin:0 9px;">RSI 14/14 = 73.0</div>
<div class="t" style="left:77px;top:478px;font-size:15.2px;color:#000;line-height:19px;letter-spacing:0.12px;transform:scaleY(1.08);transform-origin:0 16px;">Bursagraph.co.il</div>
<div class="t" style="left:202.5px;top:478px;font-size:15.2px;color:#000;line-height:19px;transform:scaleY(1.08);transform-origin:0 16px;">1084128</div>
<div class="t" style="left:275.5px;top:478px;font-size:15.2px;color:#000;line-height:19px;letter-spacing:-0.55px;transform:scaleY(1.08);transform-origin:0 16px;"><span dir="rtl">דלק קבוצה</span></div>
</body></html>
